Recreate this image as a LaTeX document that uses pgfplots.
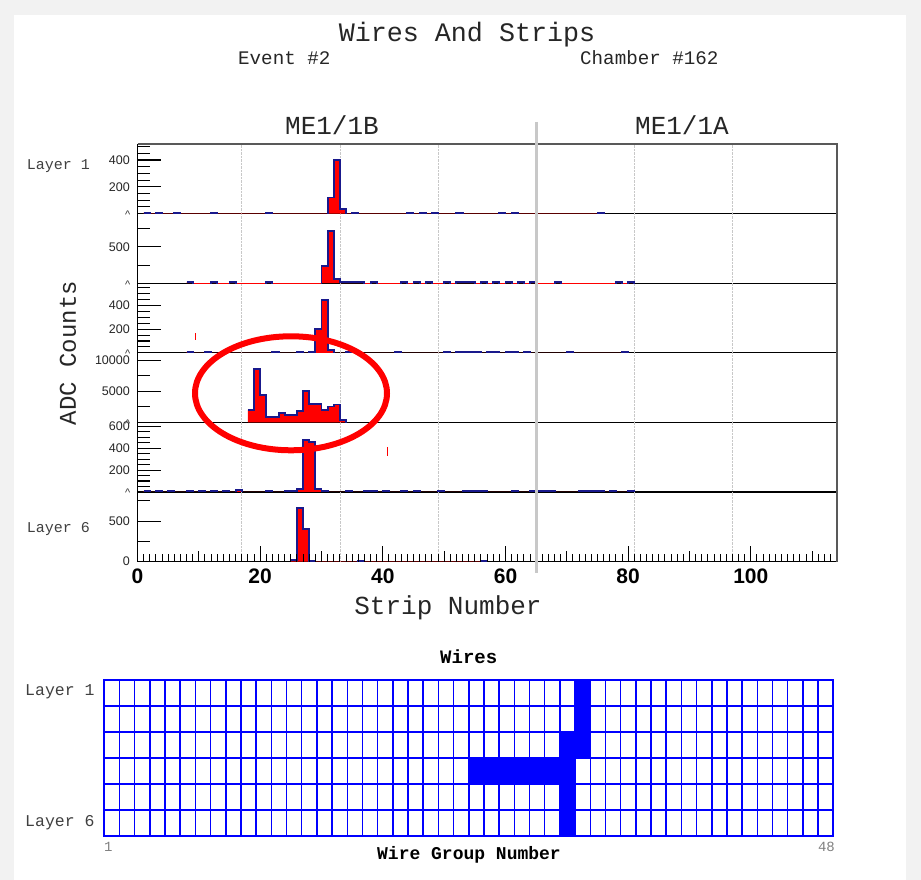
\documentclass[border=0pt]{standalone}
\usepackage{fontspec}
\usepackage{pgfplots}
\usepackage{pgfplotstable}
\pgfplotsset{compat=1.18}
\newfontfamily\mono{Liberation Mono}
\newfontfamily\arial{Liberation Sans}
\newcommand\fs[1]{\fontsize{#1}{#1}\selectfont}
\definecolor{histline}{RGB}{25,25,140}
\definecolor{sepgray}{RGB}{200,200,200}

% strip ADC counts per layer: left bin edge, value (-100 = empty bin)
\pgfplotstableread{
x y
1 7
2 -100
3 7
4 -100
6 7
7 -100
12 7
13 -100
21 7
22 -100
31 120
32 400
33 33
34 -100
35 7
36 -100
44 7
45 -100
46 7
47 -100
48 7
49 -100
52 7
53 -100
59 7
60 -100
61 7
62 -100
75 7
76 -100
}\layerA
\pgfplotstableread{
x y
8 12
9 -100
12 12
13 -100
15 12
16 -100
21 12
22 -100
30 236
31 718
32 59
33 12
37 -100
38 12
39 -100
43 12
44 -100
45 12
46 -100
47 12
48 -100
50 12
51 -100
52 12
55 -100
56 12
57 -100
58 12
59 -100
60 12
61 -100
62 12
63 -100
64 12
65 -100
68 12
69 -100
78 12
79 -100
80 12
81 -100
}\layerB
\pgfplotstableread{
x y
8 8
9 -100
11 8
12 -100
22 8
23 -100
26 8
27 -100
28 10
29 203
30 447
31 25
32 -100
34 8
35 -100
42 8
43 -100
50 8
51 -100
52 8
56 -100
57 8
59 -100
60 8
62 -100
63 8
64 -100
70 8
71 -100
79 8
80 -100
}\layerC
\pgfplotstableread{
x y
18 2000
19 8600
20 4350
21 920
22 920
23 1470
24 1250
25 1250
26 1790
27 5000
28 2990
29 2990
30 2000
31 2550
32 2880
33 380
34 -1000
}\layerD
\pgfplotstableread{
x y
1 8
2 -100
3 8
4 -100
5 8
6 -100
8 8
9 -100
10 8
11 -100
12 8
13 -100
14 8
15 -100
16 20
17 -100
21 8
22 -100
24 8
26 24
27 478
28 457
29 24
30 8
31 -100
34 8
35 -100
37 8
39 -100
40 8
41 -100
43 8
44 -100
45 8
46 -100
49 8
50 -100
53 8
57 -100
61 8
62 -100
64 8
68 -100
72 8
76 -100
77 8
78 -100
80 8
81 -100
}\layerE
\pgfplotstableread{
x y
25 20
26 660
27 400
28 11
29 -100
36 11
37 -100
56 11
57 -100
}\layerF
% hit wire groups: layer row centre, first group (0-based), number of groups
\pgfplotstableread{
layer start len
5.5 31 1
4.5 31 1
3.5 30 2
2.5 24 7
1.5 30 1
0.5 30 1
}\wirehits

\pgfplotsset{
  panel/.style={
    scale only axis, width=699.2pt, height=69.6pt, anchor=south west,
    xmin=0, xmax=114, ymin=0,
    axis lines*=left, axis line style={-, black, line width=1.2pt},
    tick align=inside, ytick pos=left,
    major tick length=24pt, minor tick length=12.7pt,
    tick style={black, line width=1.1pt},
    xtick=\empty,
    extra x ticks={17,33,49,81,97}, extra x tick labels={},
    extra x tick style={grid=major, tick style={draw=none}},
    major grid style={sepgray, densely dotted, line width=0.8pt},
    scaled y ticks=false,
    yticklabel style={font=\arial\fs{12.5}, text=black!85, inner sep=0pt, anchor=east, xshift=-7.5pt},
    /pgf/number format/assume math mode=true,
    /pgf/number format/1000 sep={},
  },
  hfill/.style={const plot, fill=red, draw=none, forget plot},
  hline/.style={const plot, draw=histline, line width=1.9pt, mark=none},
}

\begin{document}
\begin{tikzpicture}[x=1pt, y=1pt]
\path[use as bounding box] (0,0) rectangle (921,880);
\fill[black!5] (0,0) rectangle (921,880);
\fill[white] (14,0) rectangle (906,865);

% layer 1
\begin{axis}[panel, at={(137.5pt,666.4pt)}, ymax=520, ytick={200,400},
  minor ytick={50,100,150,250,300,350,450,500}]
\addplot[hfill] table {\layerA} \closedcycle;
\addplot[hline] table {\layerA};
\end{axis}
% layer 2
\begin{axis}[panel, at={(137.5pt,596.8pt)}, ymax=960, ytick={500}, minor ytick={250,750}]
\addplot[hfill] table {\layerB} \closedcycle;
\addplot[hline] table {\layerB};
\end{axis}
% layer 3
\begin{axis}[panel, at={(137.5pt,527.2pt)}, ymax=590, ytick={200,400},
  minor ytick={50,100,150,250,300,350,450,500,550}]
\addplot[hfill] table {\layerC} \closedcycle;
\addplot[hline] table {\layerC};
\end{axis}
% layer 4
\begin{axis}[panel, at={(137.5pt,457.6pt)}, ymax=11200, ytick={5000,10000}, minor ytick={2500,7500}]
\addplot[hfill] table {\layerD} \closedcycle;
\addplot[hline] table {\layerD};
\end{axis}
% layer 5
\begin{axis}[panel, at={(137.5pt,388pt)}, ymax=635, ytick={200,400,600},
  minor ytick={50,100,150,250,300,350,450,500,550}]
\addplot[hfill] table {\layerE} \closedcycle;
\addplot[hline] table {\layerE};
\end{axis}
% layer 6
\begin{axis}[panel, at={(137.5pt,318.4pt)}, ymax=860, ytick={0,500}, minor ytick={250,750}]
\addplot[hfill] table {\layerF} \closedcycle;
\addplot[hline] table {\layerF};
\end{axis}
% strip number axis of the bottom panel
\begin{axis}[scale only axis, width=699.2pt, height=69.6pt, anchor=south west, at={(137.5pt,318.4pt)},
  xmin=0, xmax=114, ymin=0, ymax=1, hide y axis, axis x line*=bottom,
  axis line style={draw=none}, tick align=inside,
  xtick={0,20,...,100}, minor xtick={1,...,113},
  major tick length=16pt, minor tick length=8pt,
  extra x ticks={10,30,50,70,90,110}, extra x tick labels={},
  extra x tick style={major tick length=11pt},
  tick style={black, line width=1pt},
  xticklabel style={font=\arial\bfseries\fs{21}, inner sep=0pt, anchor=north, yshift=-7pt},
  /pgf/number format/assume math mode=true]
\end{axis}

% wires
\begin{axis}[at={(104.3pt,44pt)}, anchor=south west, scale only axis, width=729pt, height=156pt,
  xmin=0, xmax=48, ymin=0, ymax=6,
  xtick={0,...,48}, ytick={0,...,6}, xticklabels={}, yticklabels={},
  major tick length=0pt, grid=major,
  x grid style={blue, line width=1.5pt}, y grid style={blue, line width=2.6pt},
  axis line style={blue, line width=1.8pt},
  xbar stacked, bar width=1]
\addplot[draw=none, fill=none] table[x=start, y=layer] {\wirehits};
\addplot[fill=blue, draw=blue, line width=1pt] table[x=len, y=layer] {\wirehits};
\end{axis}

% frame, separator, annotation
\draw[black!65, line width=1.6pt] (137.5,736) -- (836.7,736) -- (836.7,318.4);
\draw[sepgray, line width=3pt] (536.2,758) -- (536.2,307);
\draw[red, line width=6pt] (291,486.7) ellipse [x radius=96, y radius=57];
\draw[red, line width=1pt] (195.7,540) -- (195.7,547.3);
\draw[red, line width=1pt] (387.3,424.3) -- (387.3,432.7);

% clipped zero labels
\foreach \yb in {666.4,596.8,527.2,457.6,388}
  \node[font=\arial\fs{11}, text=black!80, anchor=base east, inner sep=0pt] at (130.5,\yb-5) {\textasciicircum};

% texts
\node[font=\mono\fs{26.7}, text=black!85, anchor=base, inner sep=0pt] at (467,838.3) {Wires And Strips};
\node[font=\mono\fs{19.2}, text=black!85, anchor=base west, inner sep=0pt] at (238,815) {Event \#2};
\node[font=\mono\fs{19.2}, text=black!85, anchor=base west, inner sep=0pt] at (580,815) {Chamber \#162};
\node[font=\mono\fs{26}, text=black!85, anchor=base, inner sep=0pt] at (332,745) {ME1/1B};
\node[font=\mono\fs{26}, text=black!85, anchor=base, inner sep=0pt] at (682,745) {ME1/1A};
\node[font=\mono\fs{15}, text=black!75, anchor=base west, inner sep=0pt] at (26.7,710) {Layer 1};
\node[font=\mono\fs{15}, text=black!75, anchor=base west, inner sep=0pt] at (26.7,347) {Layer 6};
\node[font=\mono\fs{24}, text=black!85, rotate=90, inner sep=0pt] at (68,527) {ADC Counts};
\node[font=\mono\fs{26}, text=black!85, anchor=base, inner sep=0pt] at (448,265) {Strip Number};
\node[font=\mono\bfseries\fs{19}, anchor=center, inner sep=0pt] at (468.7,223) {Wires};
\node[font=\mono\fs{16.5}, text=black!75, anchor=base west, inner sep=0pt] at (25,184.3) {Layer 1};
\node[font=\mono\fs{16.5}, text=black!75, anchor=base west, inner sep=0pt] at (25,53.3) {Layer 6};
\node[font=\mono\fs{14}, text=black!50, anchor=base west, inner sep=0pt] at (104,28) {1};
\node[font=\mono\fs{14}, text=black!50, anchor=base east, inner sep=0pt] at (835,28) {48};
\node[font=\mono\bfseries\fs{18}, anchor=center, inner sep=0pt] at (469,25) {Wire Group Number};
\end{tikzpicture}
\end{document}
